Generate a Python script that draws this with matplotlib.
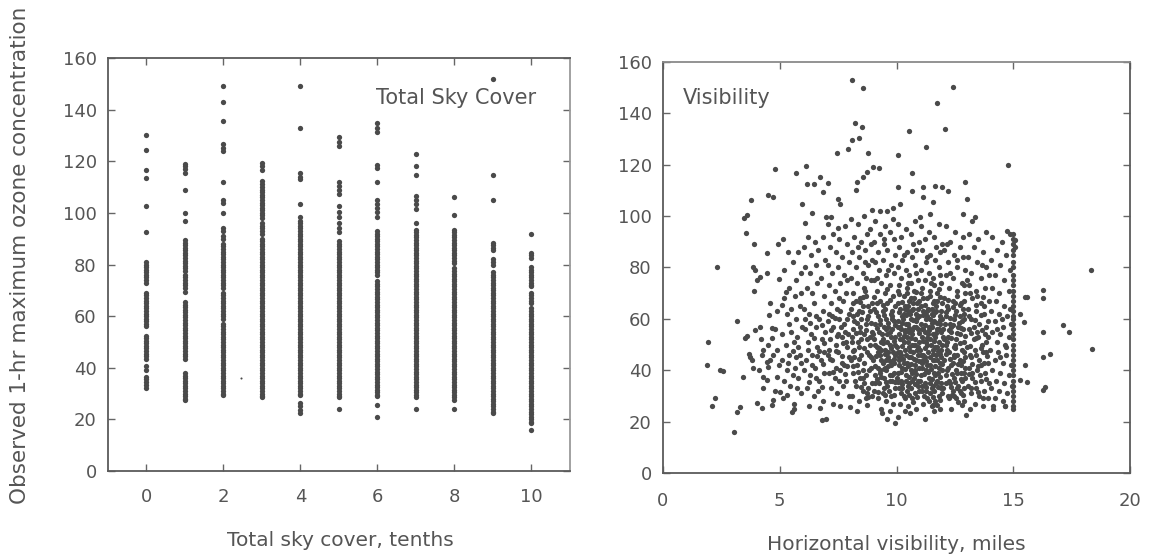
import matplotlib
matplotlib.use('Agg')
import matplotlib.pyplot as plt

plt.rcParams.update({
    'font.family': ['DejaVu Sans'],
    'text.color': '#555555', 'axes.labelcolor': '#555555',
    'xtick.color': '#555555', 'ytick.color': '#555555',
})

INK = '#4a4a4a'
GREY = '#555555'

# ---- left panel: ozone vs total sky cover (tenths) ----
sky_cover = [0, 1, 2, 3, 4, 5, 6, 7, 8, 9, 10]
ozone_sky = [
    [130, 124.5, 116.5, 113.5, 102.5, 92.5, 81, 80, 79, 78, 77, 76, 75, 74, 73, 69, 68, 67, 66, 65,
     64, 63, 62, 61, 60, 59, 58, 57, 56, 52.5, 51.5, 50.5, 49.5, 48.5, 47.5, 46.5, 45.5, 44.5, 43.5,
     40.5, 39, 36.5, 35.5, 34.5, 33.5, 32],
    [119, 118, 117, 115.5, 109, 100, 97, 89.5, 88.5, 87.5, 86.5, 85.5, 84.5, 83.5, 82.5, 81.5, 80.5,
     79.5, 78.5, 77.5, 76, 75, 74, 73, 72, 71, 69.5, 65.5, 64.5, 63.5, 62.5, 61.5, 60.5, 59.5, 58.5,
     57.5, 56.5, 55.5, 54.5, 53.5, 52.5, 51.5, 50.5, 49.5, 48.5, 47.5, 46.5, 45.5, 44.5, 43.5, 38, 37,
     36, 35, 34, 33, 32, 31, 30, 29, 28, 27.5],
    [149, 143, 135.5, 126.5, 125, 124, 112, 105, 104, 100, 94, 93, 91, 90, 88, 87, 86, 85, 84, 83, 82,
     81, 80, 79, 78, 77, 76, 75, 74, 73, 72, 71, 69, 68, 67, 66, 65, 64, 63, 62, 61, 60, 59, 57, 56,
     55, 54, 53, 52, 51, 50, 49, 48, 47, 46, 45, 44, 43, 42, 41, 40, 39, 38, 37, 36, 35, 34, 33, 32,
     31, 30, 29.5],
    [119.5, 118, 116.5, 112.5, 111, 110, 109, 108, 107, 106, 105, 104, 103, 102, 101, 100, 99, 98, 96,
     95, 94, 93, 92, 90, 89, 88, 87, 86, 85, 84, 83, 82, 81, 80, 79, 78, 77, 76, 75, 74, 73, 72, 71,
     70, 69, 68, 67, 66, 65, 64, 63, 62, 61, 60, 59, 58, 57, 56, 55, 54, 53, 52, 51, 50, 49, 48, 47,
     46, 45, 44, 43, 42, 41, 40, 39, 38, 37, 36, 35, 34, 33, 32, 31, 30, 29, 28.5],
    [149, 133, 115.5, 114, 113, 103.5, 98.5, 97, 96, 95, 94, 93, 92, 91, 90, 89, 88, 87, 86, 85, 84,
     83, 82, 81, 80, 79, 78, 77, 76, 75, 74, 73, 72, 71, 70, 69, 68, 67, 66, 65, 64, 63, 62, 61, 60,
     59, 58, 57, 56, 55, 54, 53, 52, 51, 50, 49, 48, 47, 46, 45, 44, 43, 42, 41, 40, 39, 38, 37, 36,
     35, 34, 33, 32, 31, 30, 29.5, 26.5, 25, 23.5, 22.5],
    [129.5, 127.5, 126, 112, 110.5, 109, 107.5, 102.5, 100.5, 98.5, 96, 94, 92.5, 89, 88, 87, 86, 85,
     84, 83, 82, 81, 80, 79, 78, 77, 76, 75, 74, 73, 72, 71, 70, 69, 68, 67, 66, 65, 64, 63, 62, 61,
     60, 59, 58, 57, 56, 55, 54, 53, 52, 51, 50, 49, 48, 47, 46, 45, 44, 43, 42, 41, 40, 39, 38, 37,
     36, 35, 34, 33, 32, 31, 30, 29, 28.5, 24],
    [135, 133, 131.5, 118.5, 117.5, 112, 105, 103.5, 102, 100.5, 98.5, 93, 92, 91, 90, 89, 88, 87, 86,
     85, 84, 83, 82, 81, 80, 79, 78, 77, 76, 73.5, 72.5, 71.5, 70.5, 69.5, 68.5, 67.5, 66.5, 65.5,
     64.5, 63.5, 62.5, 61.5, 60.5, 59.5, 58.5, 57.5, 56.5, 55.5, 54.5, 53.5, 52.5, 51.5, 50.5, 49.5,
     48.5, 47.5, 46.5, 45.5, 44.5, 43.5, 42.5, 41.5, 40.5, 39.5, 38.5, 37.5, 36.5, 35.5, 34.5, 33.5,
     32.5, 31.5, 30.5, 29.5, 29, 25.5, 21],
    [123, 118, 114.5, 106.5, 105, 103.5, 101.5, 96, 93.5, 92.5, 91.5, 90.5, 89.5, 88.5, 87.5, 86.5,
     85.5, 84.5, 83.5, 82.5, 81.5, 80.5, 79.5, 78.5, 77.5, 76.5, 75.5, 74.5, 73.5, 72.5, 71.5, 70.5,
     69.5, 68.5, 67.5, 66.5, 65.5, 64.5, 63.5, 62.5, 61.5, 60.5, 59.5, 58.5, 57.5, 56.5, 55.5, 54.5,
     53.5, 52.5, 51.5, 50.5, 49.5, 48.5, 47.5, 46.5, 45.5, 44.5, 43.5, 42.5, 41.5, 40.5, 39.5, 38.5,
     37.5, 36.5, 35.5, 34.5, 33.5, 32.5, 31.5, 30.5, 29.5, 28.5, 24],
    [106, 99, 93.5, 92.5, 91.5, 90.5, 89.5, 88.5, 87.5, 86.5, 85.5, 84.5, 83.5, 82.5, 81.5, 80.5,
     78.5, 77.5, 76.5, 75.5, 74.5, 73.5, 72.5, 71.5, 70.5, 69.5, 68.5, 67.5, 66.5, 65.5, 64.5, 63.5,
     62.5, 61.5, 60.5, 59.5, 58.5, 57.5, 56.5, 55.5, 54.5, 53.5, 52.5, 51.5, 50.5, 49.5, 48.5, 47.5,
     46.5, 45.5, 44.5, 43.5, 42.5, 41.5, 40.5, 39.5, 38.5, 37.5, 36.5, 35.5, 34.5, 33.5, 32.5, 31.5,
     30.5, 29.5, 28.5, 27.5, 24],
    [152, 114.5, 105, 88.5, 87.5, 86.5, 85.5, 82, 81, 80, 77, 76, 75, 74, 73, 72, 71, 70, 69, 68, 67,
     66, 65, 64, 63, 62, 61, 60, 59, 58, 57, 56, 55, 54, 53, 52, 51, 50, 49, 48, 47, 46, 45, 44, 43,
     42, 41, 40, 39, 38, 37, 36, 35, 34, 33, 32, 31, 30, 29, 28, 27, 26, 25, 24, 23, 22.5],
    [92, 84.5, 83.5, 82.5, 79, 78, 77, 76, 75, 74, 73, 72, 71.5, 69, 68, 67, 66, 65, 63, 62, 61, 60,
     59, 58, 57, 56, 55, 54, 53, 52, 51, 50, 49, 48, 47, 46, 45, 44, 43, 42, 41, 40, 39, 38, 37, 36,
     35, 34, 33, 32, 31, 30, 29, 28, 27, 26, 25, 24, 23, 22, 21, 20, 19, 18.5, 16],
]
stray_x = [2.45]
stray_y = [36]

# ---- right panel: ozone vs horizontal visibility (miles) ----
vis_sparse = [
    (2.3, 80), (1.94, 50.9), (1.9, 42), (2.44, 40.1), (2.58, 39.8), (2.23, 29.1), (2.09, 26.1),
    (3.04, 15.8), (3.18, 59.1), (3.16, 23.9), (3.3, 25.8), (3.44, 37.2), (3.51, 52.4), (3.58, 53.3),
    (3.73, 45.3), (3.8, 44), (3.94, 55.6), (3.47, 99.3), (3.58, 100.4), (3.75, 106.2), (3.54, 93.5),
    (3.91, 89.1), (3.87, 80.3), (3.94, 79), (3.91, 71), (3.7, 46.5), (3.85, 41),
    (4.15, 56.9), (4.01, 27.1), (4.23, 25.2), (4.3, 47.9), (4.23, 45.9), (4.44, 43.3), (4.51, 41.4),
    (4.66, 26.5), (4.72, 28.4), (4.3, 37.5), (4.44, 36.2), (4.55, 61.5), (4.66, 56.3), (4.8, 55.9),
    (4.66, 52.4), (4.72, 46), (4.87, 37.5), (4.44, 85.5), (4.51, 108.2), (4.72, 107.3), (4.78, 118.3),
    (4.94, 89.1), (4.01, 75.1), (4.15, 76.3), (4.44, 77.7), (4.98, 75.5), (4.6, 66), (4.9, 63),
    (4.2, 52), (4.5, 50), (4.9, 48), (4.1, 40), (4.6, 44), (4.95, 42), (4.8, 32), (4.3, 33),
    (5.15, 91), (5.2, 79), (5.27, 70.5), (5.68, 116.6), (5.01, 31.6), (5.15, 29.1), (5.3, 30.4),
    (5.51, 23.9), (5.6, 24.8), (5.08, 65.4), (5.2, 68), (5.3, 62), (5.4, 58), (5.5, 55), (5.1, 54),
    (5.25, 50), (5.6, 51), (5.8, 49), (5.4, 46), (5.7, 45), (5.1, 44), (5.9, 43), (5.3, 40),
    (5.55, 38), (5.8, 37), (5.2, 36), (5.45, 34), (5.75, 33), (5.9, 31), (5.6, 27), (5.4, 72),
    (5.7, 75), (5.9, 78), (5.55, 82), (5.8, 86), (5.35, 86), (5.94, 104.7), (5.7, 60), (5.95, 57),
    (5.85, 65), (5.5, 64), (5.65, 69), (5.9, 70),
]
vis_upper = [
    (6.12, 119.5), (6.37, 101.4), (6.08, 97.4), (6.15, 112.4), (6.47, 112.4), (6.72, 115.3),
    (6.87, 109.5), (6.98, 99.5), (7.08, 112.7), (7.18, 99.5), (7.51, 106.5), (7.58, 104.7),
    (7.51, 95.2), (7.46, 124.6), (7.94, 126.3), (8.11, 129.8), (8.41, 130.5), (8.22, 136.1),
    (8.54, 134.7), (8.11, 152.9), (8.55, 149.9), (8.77, 124.6), (8.25, 110.1), (8.29, 113.3),
    (8.58, 115.3), (8.72, 117.2), (8.94, 102.3), (9.01, 119.2), (9.26, 118.6), (9.29, 102.1),
    (9.58, 102.1), (9.86, 103), (10.08, 123.7), (10.08, 111.4), (10.15, 104.9), (10.54, 133.2),
    (10.68, 116.8), (10.65, 109.8), (11.72, 144.1), (11.26, 127), (11.15, 111.4), (11.15, 107.5),
    (11.65, 111.8), (11.94, 111.4), (11.58, 105.6), (11.0, 99.8), (11.43, 100.8), (12.41, 150.3),
    (12.08, 134.1), (12.22, 109.8), (12.93, 113.4), (12.84, 100.8), (13.0, 106.6), (13.36, 99.8),
    (13.22, 98), (14.76, 119.8), (14.72, 94.2),
]
vis_low = [
    (6.72, 25.2), (6.8, 20.6), (8.01, 25.6), (8.72, 26.5), (8.8, 29.7), (9.37, 23.2), (9.94, 19.6),
    (11.22, 20.9), (12.98, 22.6), (12.79, 26.5), (10.08, 21.9), (10.58, 23.5), (11.58, 26.5),
    (12.36, 30.4), (14.65, 26.1), (14.15, 24.8),
]
vis_core = [
    # 6-7 miles
    (6.05, 88), (6.2, 92), (6.35, 85), (6.5, 90), (6.65, 87), (6.85, 92), (6.1, 80), (6.3, 78),
    (6.55, 81), (6.75, 76), (6.95, 83), (6.15, 72), (6.4, 70), (6.6, 74), (6.9, 69), (6.05, 64),
    (6.25, 62), (6.45, 66), (6.7, 60), (6.85, 63), (6.1, 56), (6.35, 54), (6.55, 57), (6.8, 52),
    (6.95, 55), (6.2, 48), (6.4, 46), (6.6, 49), (6.75, 44), (6.9, 47), (6.05, 40), (6.3, 38),
    (6.5, 41), (6.7, 36), (6.9, 39), (6.15, 33), (6.45, 30), (6.65, 32), (6.85, 28), (6.25, 26),
    # 7-8 miles
    (7.05, 97), (7.3, 93), (7.55, 91), (7.8, 96), (7.15, 88), (7.4, 86), (7.65, 84), (7.9, 89),
    (7.05, 81), (7.25, 78), (7.5, 80), (7.75, 77), (7.95, 82), (7.1, 73), (7.35, 71), (7.6, 74),
    (7.85, 70), (7.2, 66), (7.45, 64), (7.7, 67), (7.95, 62), (7.05, 59), (7.3, 57), (7.55, 60),
    (7.8, 55), (7.15, 52), (7.4, 50), (7.65, 53), (7.9, 49), (7.05, 46), (7.25, 44), (7.5, 47),
    (7.75, 42), (7.95, 45), (7.1, 39), (7.35, 37), (7.6, 40), (7.85, 36), (7.2, 33), (7.45, 31),
    (7.7, 34), (7.95, 30), (7.3, 27), (7.6, 26), (7.0, 21), (7.75, 58), (7.6, 63), (7.25, 61),
    (7.85, 51), (7.5, 54), (7.1, 48), (7.65, 43), (7.4, 41), (7.9, 75), (7.55, 68),
    # 8-9 miles
    (8.05, 99), (8.35, 97), (8.6, 100), (8.85, 95), (8.2, 92), (8.5, 90), (8.75, 93), (8.1, 86),
    (8.4, 84), (8.65, 87), (8.95, 83), (8.25, 80), (8.55, 78), (8.8, 81), (8.05, 76), (8.3, 74),
    (8.6, 72), (8.9, 75), (8.15, 70), (8.45, 68), (8.7, 69), (8.95, 66), (8.05, 64), (8.3, 62),
    (8.55, 65), (8.8, 61), (8.2, 59), (8.45, 57), (8.7, 58), (8.95, 55), (8.1, 53), (8.35, 51),
    (8.6, 54), (8.85, 50), (8.2, 48), (8.5, 46), (8.75, 47), (8.05, 44), (8.3, 42), (8.6, 43),
    (8.9, 41), (8.15, 39), (8.45, 37), (8.7, 38), (8.95, 35), (8.25, 34), (8.55, 32), (8.8, 33),
    (8.1, 30), (8.4, 28), (8.7, 29), (8.3, 24), (8.65, 71), (8.4, 63), (8.15, 56), (8.75, 52),
    (8.4, 49), (8.9, 45), (8.2, 45), (8.55, 40), (8.35, 88), (8.65, 82), (8.9, 89), (8.5, 60),
    (8.85, 63), (8.25, 67), (8.6, 35), (8.95, 30), (8.45, 55), (8.7, 76),
    # 9-10 miles
    (9.1, 98), (9.5, 96), (9.85, 99), (9.3, 93), (9.7, 94), (9.05, 90), (9.45, 89), (9.9, 91),
    (9.2, 86), (9.6, 87), (9.95, 85), (9.1, 82), (9.4, 83), (9.75, 81), (9.25, 79), (9.55, 77),
    (9.9, 78), (9.05, 75), (9.35, 74), (9.7, 73), (9.15, 71), (9.5, 70), (9.85, 69), (9.3, 67),
    (9.6, 66), (9.95, 65), (9.05, 64), (9.4, 63), (9.75, 62), (9.2, 61), (9.55, 60), (9.9, 59),
    (9.1, 58), (9.45, 57), (9.8, 56), (9.25, 55), (9.6, 54), (9.95, 53), (9.05, 52), (9.35, 51),
    (9.7, 50), (9.15, 49), (9.5, 48), (9.85, 47), (9.3, 46), (9.65, 45), (9.0, 44), (9.4, 43),
    (9.75, 42), (9.2, 41), (9.55, 40), (9.9, 39), (9.1, 38), (9.45, 37), (9.8, 36), (9.25, 35),
    (9.6, 34), (9.95, 33), (9.05, 32), (9.4, 31), (9.75, 30), (9.2, 29), (9.55, 28), (9.85, 27),
    (9.35, 25), (9.7, 24), (9.6, 21), (9.15, 66), (9.5, 64), (9.8, 63), (9.3, 58), (9.65, 57),
    (9.0, 54), (9.4, 52), (9.75, 53), (9.2, 47), (9.55, 44), (9.9, 43), (9.3, 40), (9.7, 38),
    (9.1, 35), (9.45, 33), (9.8, 60), (9.6, 51), (9.35, 48), (9.95, 46), (9.5, 41), (9.15, 76),
    (9.65, 79), (9.45, 91),
    # 10-11 miles
    (10.05, 97), (10.4, 95), (10.8, 98), (10.2, 92), (10.6, 93), (10.95, 90), (10.1, 88), (10.45, 86),
    (10.85, 87), (10.25, 83), (10.65, 84), (10.05, 80), (10.4, 79), (10.8, 81), (10.2, 76),
    (10.55, 77), (10.9, 75), (10.1, 73), (10.45, 72), (10.75, 71), (10.3, 69), (10.6, 68),
    (10.95, 67), (10.05, 66), (10.35, 65), (10.7, 66), (10.15, 64), (10.5, 63), (10.85, 62),
    (10.25, 61), (10.6, 60), (10.95, 61), (10.05, 59), (10.4, 58), (10.75, 57), (10.2, 56),
    (10.55, 55), (10.9, 56), (10.1, 54), (10.45, 53), (10.8, 52), (10.3, 51), (10.65, 50), (10.0, 49),
    (10.35, 48), (10.7, 47), (10.2, 46), (10.55, 45), (10.9, 46), (10.1, 44), (10.45, 43), (10.8, 42),
    (10.25, 41), (10.6, 40), (10.95, 41), (10.05, 39), (10.4, 38), (10.75, 37), (10.2, 36),
    (10.55, 35), (10.9, 34), (10.1, 33), (10.45, 32), (10.8, 31), (10.3, 30), (10.65, 29),
    (10.15, 27), (10.5, 26), (10.85, 25), (10.35, 24), (10.7, 64), (10.3, 62), (10.85, 59),
    (10.15, 57), (10.5, 58), (10.65, 54), (10.25, 52), (10.95, 51), (10.55, 49), (10.15, 47),
    (10.85, 44), (10.3, 43), (10.65, 39), (10.0, 37), (10.9, 36), (10.5, 34), (10.25, 33),
    (10.75, 68), (10.45, 70), (10.05, 71), (10.6, 74), (10.85, 78), (10.3, 85), (10.7, 89),
    (10.5, 65), (10.9, 64), (10.35, 55), (10.75, 50), (10.1, 42), (10.6, 45),
    # 11-12 miles
    (11.05, 96), (11.4, 94), (11.8, 97), (11.2, 91), (11.6, 92), (11.95, 89), (11.1, 87), (11.45, 85),
    (11.85, 86), (11.25, 82), (11.65, 83), (11.05, 79), (11.4, 78), (11.8, 80), (11.2, 75),
    (11.55, 76), (11.9, 74), (11.1, 72), (11.45, 71), (11.75, 70), (11.3, 68), (11.6, 67),
    (11.95, 66), (11.05, 65), (11.35, 64), (11.7, 65), (11.15, 63), (11.5, 62), (11.85, 61),
    (11.25, 60), (11.6, 59), (11.95, 60), (11.05, 58), (11.4, 57), (11.75, 56), (11.2, 55),
    (11.55, 54), (11.9, 55), (11.1, 53), (11.45, 52), (11.8, 51), (11.3, 50), (11.65, 49), (11.0, 48),
    (11.35, 47), (11.7, 46), (11.2, 45), (11.55, 44), (11.9, 45), (11.1, 43), (11.45, 42), (11.8, 41),
    (11.25, 40), (11.6, 39), (11.95, 40), (11.05, 38), (11.4, 37), (11.75, 36), (11.2, 35),
    (11.55, 34), (11.9, 33), (11.1, 32), (11.45, 31), (11.8, 30), (11.3, 29), (11.65, 28),
    (11.15, 27), (11.5, 26), (11.85, 25), (11.6, 24), (11.7, 63), (11.3, 61), (11.85, 58),
    (11.15, 56), (11.5, 57), (11.65, 53), (11.25, 51), (11.95, 50), (11.55, 48), (11.15, 46),
    (11.85, 43), (11.3, 42), (11.65, 38), (11.0, 36), (11.9, 35), (11.5, 33), (11.25, 32),
    (11.75, 67), (11.45, 69), (11.05, 70), (11.6, 73), (11.85, 77), (11.3, 84), (11.7, 88),
    (11.5, 64), (11.9, 63), (11.35, 54), (11.75, 49), (11.1, 41), (11.6, 44),
    # 12-13 miles
    (12.1, 96), (12.5, 94), (12.85, 92), (12.3, 90), (12.7, 88), (12.05, 87), (12.45, 85), (12.85, 84),
    (12.2, 82), (12.6, 80), (12.95, 79), (12.1, 77), (12.4, 76), (12.8, 74), (12.25, 72), (12.6, 71),
    (12.95, 70), (12.05, 68), (12.4, 67), (12.75, 66), (12.2, 64), (12.55, 63), (12.9, 62),
    (12.1, 61), (12.45, 60), (12.8, 59), (12.3, 58), (12.65, 57), (12.0, 56), (12.35, 55), (12.7, 54),
    (12.2, 53), (12.55, 52), (12.9, 51), (12.1, 50), (12.45, 49), (12.8, 48), (12.25, 47), (12.6, 46),
    (12.95, 45), (12.05, 44), (12.4, 43), (12.75, 42), (12.2, 41), (12.55, 40), (12.9, 39),
    (12.1, 38), (12.45, 37), (12.8, 36), (12.3, 35), (12.65, 34), (12.0, 33), (12.4, 32), (12.75, 31),
    (12.2, 30), (12.55, 29), (12.9, 28), (12.35, 25), (12.15, 65), (12.7, 61), (12.35, 57),
    (12.85, 56), (12.5, 50), (12.15, 48), (12.7, 44), (12.35, 42), (12.95, 37), (12.6, 33),
    (12.25, 36), (12.5, 66), (12.9, 73), (12.3, 78), (12.6, 83), (12.85, 64), (12.05, 52),
    (12.45, 46), (12.75, 39), (12.15, 89),
    # 13-14 miles
    (13.1, 93), (13.5, 91), (13.85, 94), (13.3, 88), (13.7, 86), (13.05, 84), (13.45, 82), (13.85, 80),
    (13.2, 78), (13.6, 76), (13.95, 77), (13.1, 73), (13.4, 71), (13.8, 72), (13.25, 68), (13.6, 66),
    (13.95, 67), (13.05, 64), (13.4, 63), (13.75, 62), (13.2, 60), (13.55, 58), (13.9, 59),
    (13.1, 56), (13.45, 55), (13.8, 54), (13.3, 52), (13.65, 50), (13.0, 49), (13.35, 48), (13.7, 47),
    (13.2, 45), (13.55, 44), (13.9, 43), (13.1, 41), (13.45, 40), (13.8, 39), (13.25, 37), (13.6, 36),
    (13.95, 35), (13.05, 34), (13.4, 33), (13.75, 32), (13.2, 31), (13.55, 30), (13.9, 29),
    (13.35, 27), (13.7, 26), (13.15, 25), (13.5, 53), (13.85, 51), (13.15, 46), (13.6, 42),
    (13.3, 57), (13.75, 65), (13.45, 69), (13.0, 75), (13.65, 81), (13.25, 39), (13.85, 47),
    # 14-15 miles
    (14.1, 92), (14.5, 90), (14.85, 93), (14.3, 87), (14.7, 85), (14.05, 83), (14.45, 81), (14.85, 79),
    (14.2, 77), (14.6, 75), (14.1, 72), (14.4, 70), (14.8, 71), (14.25, 67), (14.6, 65), (14.05, 63),
    (14.4, 62), (14.75, 61), (14.2, 59), (14.55, 57), (14.9, 58), (14.1, 55), (14.45, 54), (14.8, 53),
    (14.3, 51), (14.65, 50), (14.0, 48), (14.35, 47), (14.7, 46), (14.2, 44), (14.55, 43), (14.9, 42),
    (14.1, 40), (14.45, 39), (14.8, 38), (14.25, 36), (14.6, 35), (14.95, 34), (14.05, 33),
    (14.4, 32), (14.75, 31), (14.2, 29), (14.55, 28), (14.15, 26), (14.65, 26), (14.5, 60),
    (14.85, 64), (14.3, 56), (14.7, 49), (14.45, 45),
]
# the dark, nearly solid middle of the cloud
vis_dense = [
    (9.12, 62.5), (9.28, 59.5), (9.48, 61.5), (9.62, 58.5), (9.82, 61), (9.95, 57.5), (9.18, 56.5),
    (9.38, 54), (9.55, 56), (9.72, 55), (9.88, 51.5), (9.08, 50), (9.25, 48.5), (9.42, 50.5),
    (9.62, 47), (9.78, 48.5), (9.95, 50), (9.12, 45.5), (9.32, 44), (9.52, 46.5), (9.7, 43.5),
    (9.88, 44.5), (9.08, 41.5), (9.28, 39), (9.45, 40.5), (9.65, 41.5), (9.82, 38), (9.15, 36.5),
    (9.35, 37.5), (9.55, 35.5), (9.72, 36), (9.92, 35.5), (9.22, 31.5), (9.5, 30.5), (9.68, 32),
    (9.88, 30.5), (9.4, 65.5), (9.7, 67.5), (9.05, 68.5), (9.58, 71.5),
    (10.12, 62.5), (10.28, 60), (10.42, 61.5), (10.58, 62), (10.72, 59.5), (10.88, 60.5),
    (10.08, 57), (10.22, 58.5), (10.38, 55.5), (10.52, 56.5), (10.68, 55.5), (10.82, 57),
    (10.98, 54.5), (10.15, 52), (10.32, 53.5), (10.48, 51), (10.62, 52.5), (10.78, 50), (10.92, 49),
    (10.05, 47), (10.22, 49.5), (10.42, 46), (10.58, 47.5), (10.75, 44.5), (10.88, 48), (10.12, 45),
    (10.28, 44.5), (10.48, 41.5), (10.62, 42.5), (10.78, 40), (10.95, 43.5), (10.18, 39.5),
    (10.35, 40.5), (10.52, 37.5), (10.68, 36), (10.85, 38.5), (10.08, 35.5), (10.25, 34.5),
    (10.42, 36), (10.62, 33), (10.78, 34.5), (10.95, 32), (10.18, 31), (10.38, 29), (10.55, 30.5),
    (10.72, 27.5), (10.88, 29.5), (10.22, 66.5), (10.55, 67), (10.88, 66), (10.35, 64),
    (10.65, 63.5), (10.12, 69.5), (10.82, 70.5), (10.48, 74),
    (11.12, 61.5), (11.28, 62.5), (11.42, 60), (11.58, 61.5), (11.72, 58.5), (11.88, 59.5),
    (11.08, 56), (11.22, 57.5), (11.38, 55.5), (11.52, 58.5), (11.68, 54.5), (11.82, 56),
    (11.98, 53), (11.15, 51.5), (11.32, 52.5), (11.48, 50), (11.62, 51.5), (11.78, 47.5),
    (11.92, 48), (11.05, 46), (11.22, 48.5), (11.42, 45), (11.58, 46.5), (11.72, 44), (11.88, 46.5),
    (11.12, 44), (11.28, 43.5), (11.48, 40.5), (11.65, 41.5), (11.78, 39), (11.95, 42.5),
    (11.18, 38.5), (11.35, 39.5), (11.52, 36.5), (11.68, 35), (11.85, 37.5), (11.08, 34),
    (11.25, 33.5), (11.42, 35), (11.62, 32), (11.78, 33.5), (11.95, 31), (11.18, 30), (11.38, 28),
    (11.55, 29.5), (11.72, 26.5), (11.88, 28.5), (11.22, 65.5), (11.55, 66), (11.88, 68.5),
    (11.35, 63.5), (11.65, 62.5), (11.12, 68), (11.82, 71.5), (11.48, 74),
    (12.12, 62.5), (12.3, 60.5), (12.52, 61.5), (12.68, 58.5), (12.88, 60), (12.08, 58),
    (12.25, 55.5), (12.42, 57.5), (12.6, 54.5), (12.78, 56.5), (12.95, 53.5), (12.15, 51),
    (12.35, 52.5), (12.52, 48.5), (12.7, 50.5), (12.88, 47), (12.1, 46.5), (12.28, 44.5),
    (12.48, 45), (12.65, 42.5), (12.85, 43.5), (12.18, 40), (12.38, 38.5), (12.58, 39),
    (12.75, 36.5), (12.92, 41), (12.12, 35), (12.32, 33.5), (12.52, 35.5), (12.7, 32), (12.88, 33),
    (12.25, 29), (12.45, 30), (12.65, 27.5), (12.85, 30.5), (12.42, 64.5), (12.72, 65.5),
    (12.22, 67.5), (12.58, 69), (12.9, 67),
    (13.12, 61), (13.35, 59.5), (13.6, 61.5), (13.85, 57), (13.2, 54.5), (13.42, 52.5), (13.65, 55.5),
    (13.9, 53), (13.15, 49.5), (13.4, 46), (13.62, 48.5), (13.88, 45.5), (13.25, 42.5), (13.5, 41.5),
    (13.75, 43), (13.1, 38.5), (13.35, 35.5), (13.58, 38), (13.82, 36.5), (13.2, 33), (13.48, 31.5),
    (13.72, 29), (13.4, 65.5), (13.7, 68.5), (13.15, 70),
    (7.12, 62), (7.38, 60.5), (7.62, 57), (7.88, 60), (7.2, 55.5), (7.45, 53.5), (7.7, 50.5),
    (7.92, 54), (7.15, 44.5), (7.42, 47.5), (7.68, 45.5), (7.9, 41.5), (7.28, 39.5), (7.52, 36),
    (7.78, 38.5), (8.12, 61), (8.32, 58.5), (8.52, 62.5), (8.72, 60), (8.92, 58.5), (8.08, 51),
    (8.28, 54.5), (8.48, 52), (8.68, 55.5), (8.88, 53), (8.15, 47.5), (8.38, 44.5), (8.62, 48.5),
    (8.82, 46), (8.12, 41.5), (8.35, 39.5), (8.58, 37), (8.82, 40), (8.22, 36), (8.48, 33.5),
    (8.72, 31), (8.42, 66.5), (8.78, 65), (8.12, 66), (8.58, 68.5),
    (6.1, 60), (6.3, 58.5), (6.55, 61), (6.8, 57.5), (6.2, 51), (6.45, 52.5), (6.7, 47.5),
    (6.9, 50.5), (6.12, 44), (6.38, 42), (6.6, 45.5), (6.85, 42.5), (6.25, 35.5), (6.55, 37),
    (6.8, 33.5), (5.55, 47.5), (5.75, 53), (5.35, 43), (5.65, 41), (5.85, 46),
]
vis_15mi = [93, 91, 89, 87, 85, 82, 80, 77, 75, 73, 71, 69, 67, 65, 63, 61, 60, 58, 56, 54, 52, 50,
            48, 46, 44, 42, 40, 38, 36, 34, 32, 30, 28, 26, 25]
vis_far = [
    (15.07, 90.7), (15.07, 88.1), (15.5, 68.6), (16.29, 71.2), (16.29, 68), (15.58, 68.6),
    (15.46, 58.9), (16.29, 55), (17.14, 57.6), (17.4, 55), (18.36, 48.2), (18.33, 79),
    (16.29, 45.3), (16.57, 46.3), (16.29, 32.3), (16.36, 33.6), (15.58, 35.5), (15.29, 36.2),
    (15.3, 62), (15.5, 42),
]

vis_points = vis_sparse + vis_upper + vis_low + vis_core + vis_dense + vis_far
vis_x = [p[0] for p in vis_points] + [15.0] * len(vis_15mi)
vis_y = [p[1] for p in vis_points] + vis_15mi

fig = plt.figure(figsize=(11.51, 5.6), dpi=100)
ax1 = fig.add_axes([0.0938, 0.1589, 0.4014, 0.7375])
ax2 = fig.add_axes([0.5760, 0.1554, 0.4058, 0.7339])

for i, vals in enumerate(ozone_sky):
    ax1.plot([sky_cover[i]] * len(vals), vals, 'o', color=INK, ms=3.8, mew=0)
ax1.plot(stray_x, stray_y, 'o', color=INK, ms=1.5, mew=0)
ax2.plot(vis_x, vis_y, 'o', color=INK, ms=3.8, mew=0)

ax1.set_xlim(-1, 11)
ax1.set_xticks([0, 2, 4, 6, 8, 10])
ax2.set_xlim(0, 20)
ax2.set_xticks([0, 5, 10, 15, 20])
for ax in (ax1, ax2):
    ax.set_ylim(0, 160)
    ax.set_yticks(range(0, 161, 20))
    ax.tick_params(direction='in', length=5, width=1, labelsize=13,
                   top=True, right=True, color='#666666')
    ax.tick_params(axis='y', pad=8)
    for s in ax.spines.values():
        s.set_color('#5a5a5a')
        s.set_linewidth(1.3)
ax1.tick_params(axis='x', pad=12)
ax2.tick_params(axis='x', pad=14)
ax1.spines['right'].set_color('#9a9a9a')
ax2.spines['top'].set_color('#8a8a8a')

ax1.text(5.95, 144.5, 'Total Sky Cover', fontsize=15, color=GREY, va='center')
ax2.text(0.86, 146, 'Visibility', fontsize=15, color=GREY, va='center')

fig.text(340 / 1151, 1 - 540 / 560, 'Total sky cover, tenths', fontsize=14.5,
         color=GREY, ha='center', va='center')
fig.text(896 / 1151, 1 - 544 / 560, 'Horizontal visibility, miles', fontsize=14.5,
         color=GREY, ha='center', va='center')
fig.text(20 / 1151, 1 - 255 / 560, 'Observed 1-hr maximum ozone concentration',
         fontsize=15.5, color=GREY, ha='center', va='center', rotation=90)

fig.savefig('out.png', dpi=100)
